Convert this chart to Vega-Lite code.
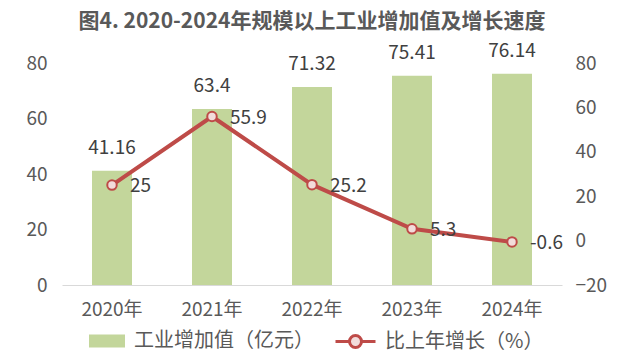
{
  "$schema": "https://vega.github.io/schema/vega-lite/v6.json",
  "width": 500,
  "height": 222,
  "autosize": {"type": "none"},
  "padding": {"left": 62, "top": 63, "right": 60, "bottom": 78},
  "background": "white",
  "config": {
    "view": {"stroke": null},
    "font": "Noto Sans CJK SC",
    "axis": {"labelFont": "Noto Sans CJK SC", "labelFontSize": 19, "labelColor": "#595959", "ticks": false, "grid": false, "domain": false, "title": null},
    "legend": {"labelFont": "Noto Sans CJK SC", "labelFontSize": 20, "labelColor": "#595959", "labelLimit": 400}
  },
  "title": {"text": "图4. 2020-2024年规模以上工业增加值及增长速度", "fontSize": 21, "fontWeight": "bold", "color": "#595959", "offset": 10, "anchor": "middle"},
  "data": {"values": [
    {"year": "2020年", "value": 41.16, "growth": 25, "vlabel": "41.16", "glabel": "25"},
    {"year": "2021年", "value": 63.4, "growth": 55.9, "vlabel": "63.4", "glabel": "55.9"},
    {"year": "2022年", "value": 71.32, "growth": 25.2, "vlabel": "71.32", "glabel": "25.2"},
    {"year": "2023年", "value": 75.41, "growth": 5.3, "vlabel": "75.41", "glabel": "5.3"},
    {"year": "2024年", "value": 76.14, "growth": -0.6, "vlabel": "76.14", "glabel": "-0.6"}
  ]},
  "encoding": {
    "x": {"field": "year", "type": "ordinal", "sort": null,
      "scale": {"paddingInner": 0.6, "paddingOuter": 0.3},
      "axis": {"labelAngle": 0, "domain": true, "domainColor": "#d9d9d9", "domainWidth": 1, "labelPadding": 15}}
  },
  "layer": [
    {
      "layer": [
        {"mark": {"type": "bar", "color": "#c3d69b"},
         "encoding": {
           "y": {"field": "value", "type": "quantitative", "scale": {"domain": [0, 80]}, "axis": {"values": [0, 20, 40, 60, 80], "labelPadding": 15}},
           "color": {"datum": "工业增加值（亿元）", "type": "nominal", "scale": {"range": ["#c3d69b"]},
             "legend": {"orient": "none", "legendX": 27, "legendY": 260, "title": null, "symbolType": "M-1,-0.36H1V0.36H-1Z", "symbolSize": 1296, "symbolStrokeWidth": 0, "labelOffset": 9}}
         }},
        {"mark": {"type": "text", "baseline": "middle", "dy": -23, "fontSize": 19, "color": "#404040"},
         "encoding": {
           "y": {"field": "value", "type": "quantitative", "scale": {"domain": [0, 80]}},
           "text": {"field": "vlabel"}
         }}
      ]
    },
    {
      "layer": [
        {"mark": {"type": "line", "color": "#be4b48", "strokeWidth": 4},
         "encoding": {
           "y": {"field": "growth", "type": "quantitative", "scale": {"domain": [-20, 80]}, "axis": {"orient": "right", "values": [-20, 0, 20, 40, 60, 80], "labelPadding": 13}},
           "stroke": {"datum": "比上年增长（%）", "type": "nominal", "scale": {"range": ["#be4b48"]},
             "legend": {"orient": "none", "legendX": 272, "legendY": 257, "title": null, "symbolType": "M-1,0H-0.3M0.3,0H1M0.3,0A0.3,0.3 0 1,1 -0.3,0A0.3,0.3 0 1,1 0.3,0Z", "symbolSize": 1600, "symbolStrokeWidth": 3, "symbolFillColor": "#f2dcdb", "labelOffset": 8}}
         }},
        {"mark": {"type": "point", "shape": "circle", "filled": false, "size": 90, "stroke": "#be4b48", "strokeWidth": 2, "fill": "#f2dcdb", "fillOpacity": 1},
         "encoding": {
           "y": {"field": "growth", "type": "quantitative", "scale": {"domain": [-20, 80]}}
         }},
        {"mark": {"type": "text", "align": "left", "baseline": "middle", "dx": 18, "dy": 1, "fontSize": 19, "color": "#404040"},
         "encoding": {
           "y": {"field": "growth", "type": "quantitative", "scale": {"domain": [-20, 80]}},
           "text": {"field": "glabel"}
         }}
      ]
    }
  ],
  "resolve": {"scale": {"y": "independent", "color": "independent", "stroke": "independent"}, "legend": {"color": "independent", "stroke": "independent"}}
}
